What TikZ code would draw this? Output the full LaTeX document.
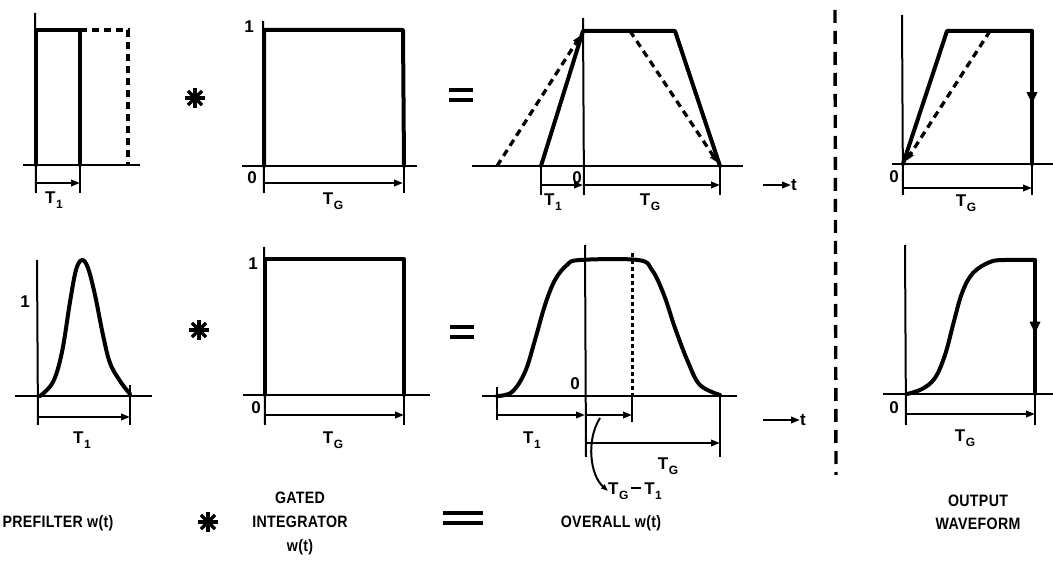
\documentclass[tikz,border=0pt]{standalone}
\usepackage{fontspec}
\newfontfamily\labfont{Liberation Sans}[LetterSpace=2.0,FakeStretch=0.86]
\newfontfamily\symfont{Liberation Sans}
\usetikzlibrary{arrows.meta,decorations.markings}
\newcommand{\Tsb}[1]{T\kern0.03em\raisebox{-0.5ex}{\fontsize{12}{12}\selectfont #1}}
\begin{document}
\begin{tikzpicture}[x=1pt,y=-1pt,
  wave/.style={line width=4pt,line join=round,line cap=round},
  axisline/.style={line width=2pt},
  baseln/.style={line width=2.7pt},
  dashwave/.style={line width=3.3pt,dash pattern=on 7pt off 5pt},
  dim/.style={line width=2.1pt,-{Triangle[length=9pt,width=6.5pt]}},
  tip/.style={-{Triangle[length=9pt,width=6.5pt]}},
  midarrow/.style={postaction={decorate},decoration={markings,mark=at position 0.55 with {\arrow{Triangle[length=12pt,width=10pt]}}}},
  lbl/.style={font=\labfont\fontsize{16.5}{24}\selectfont\bfseries,inner sep=0pt},
  sml/.style={font=\symfont\fontsize{17}{19}\selectfont\bfseries,inner sep=0pt},
  astk/.pic={\foreach \a in {0,45,90,135} \draw[line width=3.2pt] (\a:10) -- (\a+180:10);},
  eqsign/.pic={\draw[line width=3.5pt] (-12,-5) -- (12,-5) (-12,5) -- (12,5);}
]
\useasboundingbox (0,0) rectangle (1053,561);

% ===== Top prefilter =====
\draw[axisline] (35,13) -- (36,193);
\draw[baseln] (23,165) -- (140,165);
\draw[wave] (36,165) -- (36,30) -- (80,30) -- (80,165);
\draw[dashwave] (80,30) -- (128,30) -- (128,165);
\draw[axisline] (80,165) -- (80,193);
\coordinate (a1) at (36,183); \coordinate (a2) at (80,183);
\draw[dim] (a1) -- (a2);
\node[sml] (ta) at (54,200) {\Tsb{1}};

% ===== Top gated =====
\pic at (195,98) {astk};
\draw[axisline] (263,21) -- (264,193);
\node[sml] (one1) at (249,27) {1};
\draw[baseln] (242,166) -- (417,166);
\draw[wave] (264,166) -- (264,30) -- (403,30) -- (404,166);
\node[sml] (z1) at (252,178) {0};
\draw[axisline] (404,166) -- (404,193);
\coordinate (b1) at (264,183); \coordinate (b2) at (403,183);
\draw[dim] (b1) -- (b2);
\node[sml] (tb) at (333,201) {\Tsb{G}};

% ===== Top overall =====
\pic at (461,95) {eqsign};
\draw[axisline] (583,18) -- (584,195);
\draw[baseln] (472,166) -- (743,166);
\draw[wave] (541,166) -- (583,31) -- (675,31) -- (720,166);
\draw[dashwave,tip] (497,166) -- (581,35);
\draw[dashwave,tip] (630,31) -- (718,163);
\draw[axisline] (541,166) -- (541,195);
\draw[axisline] (720,166) -- (720,195);
\node[sml] (z2) at (577,178) {0};
\coordinate (c1) at (541,185); \coordinate (c2) at (583,185); \coordinate (c3) at (720,185);
\draw[dim] (c1) -- (c2);
\draw[dim] (c2) -- (c3);
\node[sml] (tc1) at (553,202) {\Tsb{1}};
\node[sml] (tc2) at (650,202) {\Tsb{G}};
\node[sml,anchor=west] (tt1) at (791,185) {t};
\coordinate (tt1s) at (763,185);
\draw[dim] (tt1s) -- (tt1.west);

% ===== separator =====
\draw[line width=3.4pt,dash pattern=on 13pt off 8pt] (835,10) -- (836,475);

% ===== Top output =====
\draw[axisline] (902,15) -- (903,195);
\draw[baseln] (892,164) -- (1053,164);
\draw[wave] (903,164) -- (947,31) -- (1032,31);
\draw[wave,midarrow] (1032,31) -- (1032,164);
\draw[dashwave,tip] (990,31) -- (906,161);
\node[sml] (z3) at (894,177) {0};
\draw[axisline] (1032,164) -- (1032,195);
\coordinate (d1) at (903,188); \coordinate (d2) at (1032,188);
\draw[dim] (d1) -- (d2);
\node[sml] (td) at (966,203) {\Tsb{G}};

% ===== Bottom prefilter =====
\draw[axisline] (37,260) -- (38,425);
\node[sml] (one2) at (25,302) {1};
\draw[baseln] (15,396) -- (152,396);
\draw[wave] plot[smooth,tension=0.6] coordinates {(40,396) (53,382) (62,352) (70,302) (76,270) (82,260) (88,268) (95,295) (103,335) (110,363) (120,381) (130,394)};
\draw[axisline] (130,385) -- (130,425);
\coordinate (e1) at (38,417); \coordinate (e2) at (130,417);
\draw[dim] (e1) -- (e2);
\node[sml] (te) at (82,440) {\Tsb{1}};

% ===== Bottom gated =====
\pic at (199,330) {astk};
\draw[axisline] (264,247) -- (265,425);
\node[sml] (one3) at (253,264) {1};
\draw[baseln] (243,395) -- (430,395);
\draw[wave] (265,395) -- (265,259) -- (404,259) -- (404,395);
\node[sml] (z4) at (256,408) {0};
\draw[axisline] (404,395) -- (404,425);
\coordinate (f1) at (265,415); \coordinate (f2) at (404,415);
\draw[dim] (f1) -- (f2);
\node[sml] (tf) at (333,440) {\Tsb{G}};

% ===== Bottom overall =====
\pic at (462,332) {eqsign};
\draw[axisline] (585,245) -- (586,457);
\draw[baseln] (482,396) -- (737,396);
\draw[wave] plot[smooth,tension=0.6] coordinates {(497,396) (512,392) (525,372) (535,340) (545,305) (555,280) (567,265) (580,260) (638,260) (652,270) (664,295) (675,328) (688,362) (700,385) (720,395)};
\draw[line width=3pt,dash pattern=on 4pt off 3pt] (632,253) -- (632,395);
\draw[axisline] (632,395) -- (632,422);
\draw[axisline] (497,387) -- (497,420);
\draw[axisline] (720,396) -- (720,457);
\node[sml] (z5) at (575,384) {0};
\coordinate (g1) at (497,415); \coordinate (g2) at (585,415); \coordinate (g3) at (632,415);
\coordinate (g4) at (585,443); \coordinate (g5) at (720,443);
\draw[dim] (g1) -- (g2);
\draw[dim] (g2) -- (g3);
\draw[dim] (g4) -- (g5);
\node[sml] (tg1) at (532,440) {\Tsb{1}};
\node[sml] (tg2) at (668,466) {\Tsb{G}};
\node[sml,anchor=west] (tg3) at (608,491) {\Tsb{G}\,\rule[0.32em]{0.6em}{2.2pt}\,\Tsb{1}};
\coordinate (gc) at (600,418);
\draw[axisline,-{Triangle[length=7pt,width=5pt]}] (gc) .. controls (586,440) and (590,475) .. (tg3.west);
\node[sml,anchor=west] (tt2) at (800,420) {t};
\coordinate (tt2s) at (763,420);
\draw[dim] (tt2s) -- (tt2.west);

% ===== Bottom output =====
\draw[axisline] (905,245) -- (906,425);
\draw[baseln] (883,394) -- (1053,394);
\draw[wave] plot[smooth,tension=0.6] coordinates {(907,394) (922,389) (935,378) (945,355) (953,325) (962,293) (973,273) (990,262) (1005,260) (1035,260)};
\draw[wave,midarrow] (1035,260) -- (1035,394);
\node[sml] (z6) at (894,408) {0};
\draw[axisline] (1035,394) -- (1035,425);
\coordinate (h1) at (906,414); \coordinate (h2) at (1035,414);
\draw[dim] (h1) -- (h2);
\node[sml] (th) at (965,438) {\Tsb{G}};

% ===== Bottom captions =====
\node[lbl] (cap1) at (58,523) {PREFILTER w(t)};
\pic at (208,522) {astk};
\node[lbl,align=center] (cap2) at (300,523) {GATED\\INTEGRATOR\\w(t)};
\draw[line width=3.5pt] (443,513) -- (483,513) (443,523) -- (483,523);
\node[lbl] (cap3) at (611,523) {OVERALL w(t)};
\node[lbl,align=center,font=\labfont\fontsize{16.5}{23}\selectfont\bfseries] (cap4) at (978,512) {OUTPUT\\WAVEFORM};
\end{tikzpicture}
\end{document}
